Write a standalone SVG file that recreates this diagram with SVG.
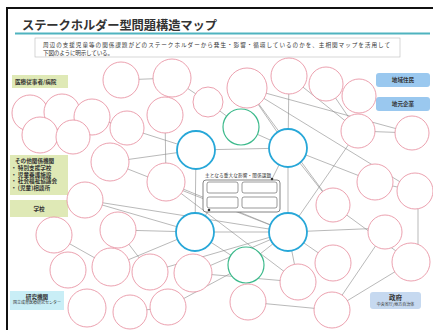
<svg xmlns="http://www.w3.org/2000/svg" width="433" height="330" viewBox="0 0 433 330">
<style>
text{font-family:"Noto Sans CJK JP","Noto Sans",sans-serif;fill:#333}
.frame{fill:none;stroke:#111;stroke-width:2}
.cn line{stroke:#8a8a8a;stroke-width:0.6}
.p{fill:#fff;stroke:#e6899b;stroke-width:0.8}
.t{fill:#fff;stroke:#27a7d8;stroke-width:1.8}
.g{fill:#fff;stroke:#3dba8c;stroke-width:1.2}
.gl{fill:#dfe9b6}
.bl{fill:#9ac8ef}
.lb{font-size:5.6px;font-weight:bold}
.sm{font-size:4px}
.ib{fill:#fff;stroke:#555;stroke-width:0.6}
</style>
<rect x="0" y="0" width="433" height="330" fill="#fff"/>
<rect class="frame" x="7" y="8" width="440" height="340"/>
<text x="22" y="30" font-size="12.3" font-weight="bold" fill="#222" textLength="195">ステークホルダー型問題構造マップ</text>
<line x1="15" y1="33.5" x2="430" y2="33.5" stroke="#4fb3bf" stroke-width="2"/>
<g id="description">
<rect x="35" y="38" width="365" height="19" fill="#fff" stroke="#bbb" stroke-width="0.6"/>
<text x="43" y="47" font-size="5.6" textLength="347">周辺の支援児童等の関係課題がどのステークホルダーから発生・影響・循環しているのかを、主相関マップを活用して</text>
<text x="43" y="54.5" font-size="5.6" textLength="70">下図のように明示している。</text>
</g>
<g id="label-iryo"><rect class="gl" x="12" y="75" width="56" height="13"/><text class="lb" x="15" y="83.5">医療従事者/病院</text></g>
<g id="label-sonota"><rect class="gl" x="10" y="155" width="58" height="40"/>
<text class="lb" x="15" y="163">その他関係機関</text>
<text class="lb" x="11" y="170">・ 特別支援学校</text>
<text class="lb" x="11" y="176.5">・ 児童養護施設</text>
<text class="lb" x="11" y="183">・ 社会福祉協議会</text>
<text class="lb" x="11" y="189.5">・ (児童)相談所</text></g>
<g id="label-gakko"><rect class="gl" x="10" y="200" width="58" height="17"/><text class="lb" x="39" y="210.5" text-anchor="middle">学校</text></g>
<g id="label-kenkyu"><rect x="10" y="291" width="54" height="19" fill="#c9eef6"/><text class="lb" x="37" y="298.5" text-anchor="middle">研究機関</text><text class="sm" x="37" y="304" text-anchor="middle">国立成育医療研究センター</text></g>
<g id="label-jumin"><rect class="bl" x="376" y="73" width="54" height="14" rx="3"/><text class="lb" x="403" y="82" text-anchor="middle" fill="#1e3a5f">地域住民</text></g>
<g id="label-kigyo"><rect class="bl" x="376" y="97" width="54" height="14" rx="3"/><text class="lb" x="403" y="106" text-anchor="middle" fill="#1e3a5f">地元企業</text></g>
<g id="label-seifu"><rect x="370" y="292" width="51" height="17" rx="3" fill="#c6d9f0"/><text x="395.5" y="300" font-size="6.5" font-weight="bold" text-anchor="middle" fill="#1e3a5f">政府</text><text class="sm" x="395.5" y="306" text-anchor="middle">中央省庁/地方自治体</text></g>
<g id="connectors" class="cn">
<line x1="121" y1="80" x2="172" y2="78"/>
<line x1="172" y1="78" x2="208" y2="102"/>
<line x1="165" y1="115" x2="166" y2="182"/>
<line x1="127" y1="128" x2="196" y2="150"/>
<line x1="110" y1="162" x2="196" y2="150"/>
<line x1="85" y1="200" x2="195" y2="232"/>
<line x1="85" y1="200" x2="288" y2="232"/>
<line x1="166" y1="182" x2="288" y2="232"/>
<line x1="110" y1="162" x2="288" y2="232"/>
<line x1="196" y1="150" x2="288" y2="148"/>
<line x1="196" y1="150" x2="195" y2="232"/>
<line x1="288" y1="148" x2="288" y2="232"/>
<line x1="195" y1="232" x2="288" y2="232"/>
<line x1="241" y1="127" x2="288" y2="148"/>
<line x1="247" y1="88" x2="288" y2="148"/>
<line x1="247" y1="88" x2="415" y2="191"/>
<line x1="247" y1="88" x2="412" y2="133"/>
<line x1="247" y1="88" x2="333" y2="205"/>
<line x1="289" y1="76" x2="288" y2="148"/>
<line x1="289" y1="76" x2="358" y2="131"/>
<line x1="326" y1="84" x2="358" y2="131"/>
<line x1="358" y1="131" x2="412" y2="133"/>
<line x1="358" y1="131" x2="288" y2="232"/>
<line x1="288" y1="148" x2="375" y2="182"/>
<line x1="288" y1="148" x2="333" y2="205"/>
<line x1="375" y1="182" x2="415" y2="191"/>
<line x1="418" y1="191" x2="418" y2="262"/>
<line x1="288" y1="232" x2="385" y2="228"/>
<line x1="288" y1="232" x2="333" y2="263"/>
<line x1="333" y1="205" x2="411" y2="262"/>
<line x1="332" y1="310" x2="411" y2="262"/>
<line x1="385" y1="232" x2="332" y2="310"/>
<line x1="166" y1="182" x2="298" y2="282"/>
<line x1="288" y1="232" x2="298" y2="282"/>
<line x1="246" y1="265" x2="288" y2="232"/>
<line x1="195" y1="232" x2="246" y2="265"/>
<line x1="118" y1="230" x2="195" y2="232"/>
<line x1="118" y1="230" x2="150" y2="272"/>
<line x1="54" y1="235" x2="111" y2="267"/>
<line x1="150" y1="272" x2="288" y2="232"/>
<line x1="111" y1="267" x2="195" y2="232"/>
<line x1="193" y1="273" x2="298" y2="282"/>
<line x1="193" y1="273" x2="288" y2="232"/>
<line x1="168" y1="307" x2="246" y2="265"/>
<line x1="248" y1="302" x2="332" y2="310"/>
<line x1="130" y1="312" x2="168" y2="307"/>
<line x1="92" y1="117" x2="127" y2="128"/>
<line x1="208" y1="102" x2="241" y2="127"/>
<line x1="279" y1="165" x2="272" y2="179"/>
<line x1="205" y1="216" x2="209" y2="210"/>
</g>
<g id="central-box">
<text x="205" y="177" font-size="4.6" fill="#2f7fd0" textLength="66">主となる重大な影響・関係課題</text>
<rect x="203" y="180" width="77" height="32" rx="3" fill="#fff" stroke="#666" stroke-width="0.8"/>
<rect class="ib" x="207" y="182" width="31" height="11" rx="2"/>
<rect class="ib" x="242" y="182" width="35" height="11" rx="2"/>
<rect class="ib" x="207" y="197" width="31" height="11" rx="2"/>
<rect class="ib" x="242" y="197" width="35" height="11" rx="2"/>
<circle cx="272" cy="179" r="1.3" fill="#333"/>
<circle cx="209" cy="210" r="1.3" fill="#333"/>
</g>
<g id="n1"><circle class="p" cx="121" cy="80" r="18"/></g>
<g id="n2"><circle class="p" cx="172" cy="78" r="19"/></g>
<g id="n3"><circle class="p" cx="208" cy="102" r="15"/></g>
<g id="n4"><circle class="p" cx="165" cy="115" r="18"/></g>
<g id="n5"><circle class="p" cx="247" cy="88" r="20"/></g>
<g id="n6"><circle class="p" cx="289" cy="76" r="18"/></g>
<g id="n7"><circle class="p" cx="326" cy="84" r="17"/></g>
<g id="n8"><circle class="p" cx="359" cy="96" r="17"/></g>
<g id="n9"><circle class="p" cx="30" cy="113" r="18"/></g>
<g id="n10"><circle class="p" cx="62" cy="112" r="18"/></g>
<g id="n11"><circle class="p" cx="92" cy="117" r="18"/></g>
<g id="n12"><circle class="p" cx="40" cy="135" r="18"/></g>
<g id="n13"><circle class="p" cx="73" cy="137" r="17"/></g>
<g id="n14"><circle class="p" cx="127" cy="128" r="17"/></g>
<g id="n15"><circle class="p" cx="110" cy="162" r="19"/></g>
<g id="n16"><circle class="p" cx="166" cy="182" r="19"/></g>
<g id="n17"><circle class="p" cx="85" cy="200" r="18"/></g>
<g id="ta"><circle class="t" cx="196" cy="150" r="19"/></g>
<g id="tb"><circle class="t" cx="288" cy="148" r="19"/></g>
<g id="tc"><circle class="t" cx="195" cy="232" r="19"/></g>
<g id="td"><circle class="t" cx="288" cy="232" r="19"/></g>
<g id="g1"><circle class="g" cx="241" cy="127" r="18"/></g>
<g id="g2"><circle class="g" cx="246" cy="265" r="18"/></g>
<g id="r1"><circle class="p" cx="358" cy="131" r="17"/></g>
<g id="r2"><circle class="p" cx="412" cy="133" r="17"/></g>
<g id="r3"><circle class="p" cx="375" cy="182" r="18"/></g>
<g id="r4"><circle class="p" cx="415" cy="191" r="18"/></g>
<g id="r5"><circle class="p" cx="333" cy="205" r="17"/></g>
<g id="r6"><circle class="p" cx="385" cy="232" r="17"/></g>
<g id="r7"><circle class="p" cx="411" cy="262" r="19"/></g>
<g id="r8"><circle class="p" cx="333" cy="263" r="18"/></g>
<g id="r9"><circle class="p" cx="298" cy="282" r="18"/></g>
<g id="r10"><circle class="p" cx="332" cy="310" r="18"/></g>
<g id="r11"><circle class="p" cx="248" cy="302" r="18"/></g>
<g id="l1"><circle class="p" cx="54" cy="235" r="18"/></g>
<g id="l2"><circle class="p" cx="118" cy="230" r="18"/></g>
<g id="l3"><circle class="p" cx="68" cy="270" r="18"/></g>
<g id="l4"><circle class="p" cx="111" cy="267" r="19"/></g>
<g id="l5"><circle class="p" cx="150" cy="272" r="18"/></g>
<g id="l6"><circle class="p" cx="193" cy="273" r="19"/></g>
<g id="l7"><circle class="p" cx="87" cy="308" r="19"/></g>
<g id="l8"><circle class="p" cx="130" cy="312" r="17"/></g>
<g id="l9"><circle class="p" cx="168" cy="307" r="18"/></g>
</svg>
